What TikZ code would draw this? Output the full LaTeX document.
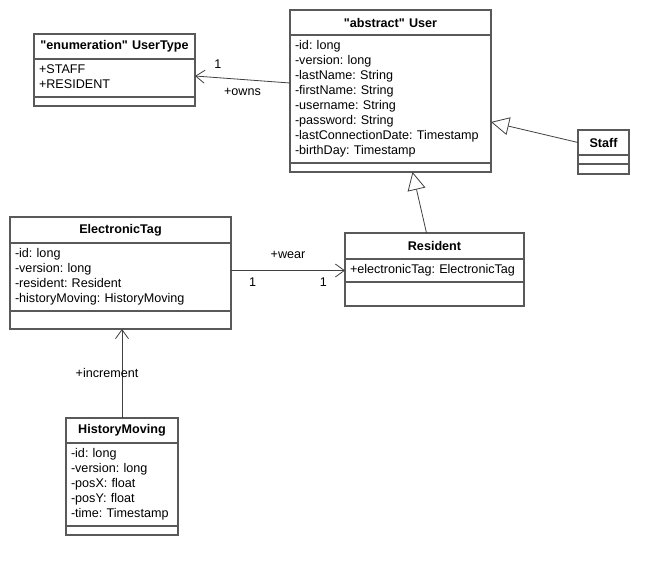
\documentclass[tikz,border=0pt]{standalone}
\usepackage{fontspec}
\setmainfont{Liberation Sans}
\usetikzlibrary{positioning}
\usetikzlibrary{calc}
\usetikzlibrary{arrows.meta}
\frenchspacing
\definecolor{boxline}{HTML}{595959}
\definecolor{conline}{HTML}{404040}
\tikzset{>={Straight Barb[length=9pt,width=13pt]}}
\tikzset{part/.style={draw=boxline, line width=1.2pt, outer sep=0pt, inner xsep=5pt, inner ysep=4pt, text width=#1, font=\fontsize{12.6}{15}\selectfont}}
\tikzset{classname/.style={part=#1, minimum height=25pt, align=center, font=\fontsize{12.6}{15}\selectfont\bfseries}}
\tikzset{attrs/.style={part=#1, align=left, execute at begin node=\strut, execute at end node=\strut}}
\tikzset{ops/.style={part=#1, minimum height=9pt}}
\tikzset{assoc/.style={draw=conline, line width=0.8pt, ->}}
\tikzset{gen/.style={draw=conline, line width=0.8pt, -{Triangle[open, length=18pt, width=18pt, fill=white]}}}
\tikzset{lbl/.style={font=\fontsize{12.6}{15}\selectfont, inner sep=2pt}}

\begin{document}
\begin{tikzpicture}[x=1pt, y=-1pt]
\path[fill=white] (0,0) rectangle (668,575);

% classes
\node (usertype) [classname=151pt, anchor=north west] at (34,34) {\textquotedbl enumeration\textquotedbl{} UserType};
\node (usertypeattr) [attrs=151pt, below=0pt of usertype] {+STAFF\\+RESIDENT};
\node (usertypeops) [ops=151pt, below=0pt of usertypeattr] {};

\node (user) [classname=191pt, anchor=north west] at (290,10) {\textquotedbl abstract\textquotedbl{} User};
\node (userattr) [attrs=191pt, below=0pt of user] {-id: long\\-version: long\\-lastName: String\\-firstName: String\\-username: String\\-password: String\\-lastConnectionDate: Timestamp\\-birthDay: Timestamp};
\node (userops) [ops=191pt, below=0pt of userattr] {};

\node (staff) [classname=41pt, anchor=north west] at (578,130) {Staff};
\node (staffattr) [ops=41pt, below=0pt of staff] {};
\node (staffops) [ops=41pt, minimum height=10pt, below=0pt of staffattr] {};

\node (etag) [classname=211pt, minimum height=26pt, anchor=north west] at (10,217) {ElectronicTag};
\node (etagattr) [attrs=211pt, below=0pt of etag] {-id: long\\-version: long\\-resident: Resident\\-historyMoving: HistoryMoving};
\node (etagops) [ops=211pt, minimum height=18pt, below=0pt of etagattr] {};

\node (resident) [classname=169pt, minimum height=26pt, anchor=north west] at (345,233) {Resident};
\node (residentattr) [attrs=169pt, below=0pt of resident] {+electronicTag: ElectronicTag};
\node (residentops) [ops=169pt, minimum height=24pt, below=0pt of residentattr] {};

\node (moving) [classname=102pt, anchor=north west] at (66,418) {HistoryMoving};
\node (movingattr) [attrs=102pt, below=0pt of moving] {-id: long\\-version: long\\-posX: float\\-posY: float\\-time: Timestamp};
\node (movingops) [ops=102pt, below=0pt of movingattr] {};

% relations
\draw[assoc] ($(userattr.west)+(0,-16)$) -- ($(usertypeattr.east)+(0,-2)$)
  node (ownsmult) [lbl, pos=0.76, above=7pt] {1}
  node (ownsrole) [lbl, pos=0.5, below=6pt] {+owns};
\draw[gen] (staff.west) -- ($(userattr.east)+(0,23)$);
\draw[gen] ($(resident.north)+(-8,0)$) -- ($(userops.south)+(22,0)$);
\draw[assoc] (etagattr.east |- residentattr.west) -- (residentattr.west)
  node (wearrole) [lbl, pos=0.5, above=9pt] {+wear}
  node (wearsrc) [lbl, pos=0.19, below=5pt] {1}
  node (weardst) [lbl, pos=0.81, below=5pt] {1};
\draw[assoc] (moving.north) -- (moving.north |- etagops.south)
  node (incrole) [lbl, pos=0.51, xshift=-15pt] {+increment};
\end{tikzpicture}
\end{document}
